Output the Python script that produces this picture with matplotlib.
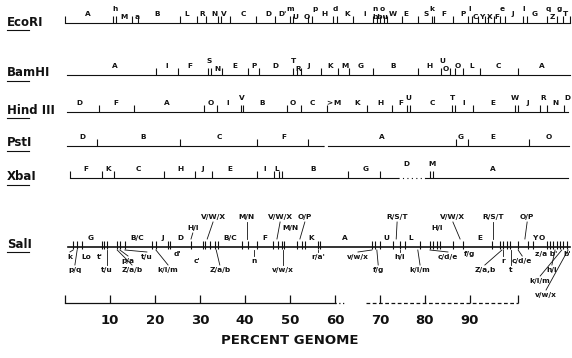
import numpy as np
import matplotlib.pyplot as plt

nan = np.nan

# ---- restriction maps, positions in percent genome ----
eco_cuts = [0.0, 10.7, 11.3, 14.9, 16.2, 25.6, 29.3, 31.3, 33.9, 34.6, 36.7, 42.4, 46.7,
            50.0, 50.7, 54.0, 54.9, 59.6, 60.4, 64.0, 68.4, 69.3, 70.0, 70.9, 71.6, 74.9,
            78.4, 81.6, 82.0, 86.2, 89.6, 90.4, 91.8, 93.3, 94.0, 95.3, 96.7, 97.8,
            101.8, 102.7, 107.1, 109.3, 110.7, 112.2]
eco_names = ["A", "h", "M", "a", "B", "L", "R", "N", "V", "C",
             "D", "D'", "m", "U", "O", "p", "H", "d", "K", "i",
             "n", "o", "bbu", "W", "E", "S", "k", "F", "P", "l",
             "C", "Y", "X", "F", "e", "J", "l", "G", "q", "Z",
             "g", "T"]
eco_pos = [5.1, 11.1, 13.1, 16.0, 20.4, 27.1, 30.4, 33.1, 35.3, 39.6,
           45.1, 48.4, 50.0, 51.1, 53.8, 55.6, 57.6, 60.0, 62.7, 66.7,
           68.9, 70.4, 70.0, 72.9, 75.8, 80.2, 81.6, 84.2, 88.4, 90.0,
           91.1, 92.7, 94.4, 96.0, 97.1, 99.6, 102.0, 104.4, 107.3, 108.4,
           109.8, 111.3]
eco_tier = [0, 1, -1, -1, 0, 0, 0, 0, 0, 0,
            0, 0, 1, -1, -1, 1, 0, 1, 0, 0,
            1, 1, -1, 0, 0, 0, 1, 0, 0, 1,
            -1, -1, -1, -1, 1, 0, 1, 0, 1, -1,
            1, 0]

bam_cuts = [20.2, 25.1, 31.8, 32.4, 34.9, 40.7, 43.1, 50.7, 51.6, 52.4, 56.9, 60.7, 63.1,
            68.4, 78.4, 83.6, 85.6, 86.7, 88.4, 92.2, 100.7]
bam_names = ["A", "I", "F", "S", "N", "E", "P", "D", "T", "R", "J", "K", "M", "G",
             "B", "H", "U", "O", "O", "L", "C", "A"]
bam_pos = [11.1, 22.7, 27.8, 32.0, 33.8, 37.8, 42.0, 46.7, 50.7, 51.8, 54.2, 58.9, 62.2,
           65.8, 72.9, 80.9, 83.8, 84.7, 87.3, 90.4, 96.2, 106.0]
bam_tier = [0, 0, 0, 1, -1, 0, 0, 0, 1, -1, 0, 0, 0, 0, 0, 0, 1, -1, 0, 0, 0, 0]

hind_cuts = [7.6, 15.3, 30.9, 33.8, 39.1, 39.6, 49.3, 52.4, 58.2, 67.1, 72.7, 76.0, 76.7,
             86.0, 86.7, 90.7, 100.0, 100.7, 105.6, 107.1, 110.9]
hind_names = ["D", "F", "A", "O", "I", "V", "B", "O", "C", ">",
              "M", "K", "H", "F", "U", "C", "T", "I", "E", "W",
              "J", "R", "N", "D"]
hind_pos = [3.3, 11.3, 22.7, 32.4, 36.2, 39.3, 43.8, 50.7, 54.9, 58.7,
            60.4, 64.9, 70.0, 74.7, 76.4, 81.6, 86.2, 88.7, 95.1, 100.0,
            102.9, 106.2, 108.9, 111.6]
hind_tier = [0, 0, 0, 0, 0, 1, 0, 0, 0, 0, 0, 0, 0, 0, 1, 0, 1, 0, 0, 1, 0, 1, 0, 1]

pst_cuts = [7.1, 25.6, 42.7, 54.0, 86.9, 89.6, 103.1]
pst_names = ["D", "B", "C", "F", "A", "G", "E", "O"]
pst_pos = [3.8, 17.3, 34.4, 48.7, 70.4, 88.0, 95.1, 107.6]

xba_cuts = [1.1, 8.2, 10.9, 22.0, 28.9, 32.7, 42.7, 46.4, 47.6, 48.2, 62.9, 70.0, 81.1, 81.8]
xba_names = ["F", "K", "C", "H", "J", "E", "I", "L", "B", "G", "D", "M", "A"]
xba_pos = [4.7, 9.6, 16.2, 25.6, 30.7, 36.7, 44.4, 47.1, 55.1, 66.7, 75.8, 81.6, 95.1]
xba_tier = [0, 0, 0, 0, 0, 0, 0, 0, 0, 0, 1, 1, 0]

sal_cuts = [1.8, 2.7, 3.8, 8.2, 8.7, 9.3, 11.6, 12.2, 13.3, 19.3, 20.2, 22.9, 23.3, 28.0,
            30.7, 31.1, 32.2, 33.3, 34.0, 39.3, 40.7, 42.7, 46.2, 47.3, 48.2, 48.7, 51.6,
            52.7, 53.3, 56.2, 56.7, 68.2, 68.9, 70.0, 72.9, 74.4, 75.6, 78.9, 81.1, 81.8,
            82.7, 83.3, 86.2, 88.4, 94.9, 96.7, 97.3, 98.2, 98.9, 100.7, 102.9, 104.0,
            107.1, 107.8, 108.4, 109.3, 110.0, 110.7, 111.6]
sal_top = ["G", "B/C", "J", "D", "B/C", "F", "K", "A", "U", "L", "E", "Y", "O",
           "H/I", "M/N", "H/I",
           "V/W/X", "M/N", "V/W/X", "O/P", "R/S/T", "V/W/X", "R/S/T", "O/P"]
sal_top_x = [5.6, 16.0, 21.8, 25.6, 36.7, 44.4, 54.7, 62.2, 71.3, 76.9, 92.2, 104.4, 106.0,
             28.4, 50.0, 82.7,
             32.9, 40.4, 47.8, 53.3, 73.8, 86.2, 95.1, 102.7]
sal_top_tier = [0] * 13 + [1] * 3 + [2] * 8
sal_top_site = [nan] * 13 + [28.0, nan, nan] + [31.6, 40.4, 47.1, 52.2, 73.6, 87.8, 95.1, 102.2]

sal_bot = ["k", "Lo", "t'", "p/a", "t/u", "d'", "c'", "n", "r/a'", "v/w/x", "h/i",
           "c/d/e", "f/g", "r", "c/d/e", "z/a b'", "b'",
           "p/q", "t/u", "Z/a/b", "k/l/m", "Z/a/b", "v/w/x", "f/g", "k/l/m", "Z/a,b", "t", "h/i",
           "k/l/m", "v/w/x"]
sal_bot_x = [1.1, 4.7, 7.8, 14.0, 18.2, 24.9, 29.3, 42.0, 56.2, 65.1, 74.4,
             85.1, 90.0, 97.3, 101.6, 106.9, 111.6,
             2.2, 9.3, 14.9, 22.9, 34.4, 48.4, 69.6, 78.9, 93.3, 99.1, 108.2,
             105.6, 106.9]
sal_bot_tier = [1, 1, 1, 1.5, 1, 0, 1.5, 1.5, 1, 1, 1,
                1, 0, 1.5, 1.5, 0, 0,
                2, 2, 2, 2, 2, 2, 2, 2, 2, 2, 2,
                3, 4]
sal_bot_site = [1.8, nan, nan, 12.2, 13.3, 23.3, nan, 42.0, 56.2, 68.2, 74.4,
                81.1, 88.4, 97.3, 100.7, nan, 111.6,
                2.7, 9.3, 11.6, 20.2, 33.6, 48.4, 69.3, 78.4, 97.1, 99.1, 108.9,
                110.4, 111.8]

scale_ticks = [0, 10, 20, 30, 40, 50, 60, 70, 80, 90]
scale_end = 100.7

INK = '#111111'
FR = dict(fontsize=5.3, fontweight='bold', color=INK, ha='center', va='center')


def row(ax, y, x0, x1, cuts, names, pos, tier=None, gap=None):
    # base line, with a dotted stretch where the map is uncertain
    if gap is None:
        ax.plot([x0, x1], [y, y], color=INK, lw=0.8)
    else:
        ax.plot([x0, gap[0]], [y, y], color=INK, lw=0.8)
        ax.plot(gap, [y, y], color=INK, lw=0.8, ls=(0, (1, 3)))
        ax.plot([gap[1], x1], [y, y], color=INK, lw=0.8)
    ax.vlines(cuts, y - 7, y, color=INK, lw=0.8)
    if tier is None:
        tier = [0] * len(names)
    for n, x, t in zip(names, pos, tier):
        dy = {0: -9, 1: -14, -1: -6}[t]
        ax.text(x, y + dy, n, **FR)


def main():
    fig = plt.figure(figsize=(5.72, 3.58), dpi=100)
    ax = fig.add_axes([0, 0, 1, 1])
    ax.set_xlim(-65 / 4.5, (572 - 65) / 4.5)
    ax.set_ylim(358, 0)
    ax.axis('off')

    # enzyme names
    for name, y in [("EcoRI", 22), ("BamHI", 73), ("Hind III", 110), ("PstI", 143),
                    ("XbaI", 177), ("SalI", 244)]:
        ax.text(-12.9, y, name, fontsize=8.5, fontweight='bold', color=INK, ha='left', va='center')
        ax.plot([-12.9, -8.0], [y + 8, y + 8], color=INK, lw=0.8)

    row(ax, 23, 0.0, 112.2, eco_cuts, eco_names, eco_pos, eco_tier)
    row(ax, 75, 0.4, 112.2, bam_cuts, bam_names, bam_pos, bam_tier)
    row(ax, 112, 0.4, 111.8, hind_cuts, hind_names, hind_pos, hind_tier)
    row(ax, 146, 0.4, 112.0, pst_cuts, pst_names, pst_pos, gap=(57.3, 58.6))
    row(ax, 178, 1.1, 111.8, xba_cuts, xba_names, xba_pos, xba_tier, gap=(74.0, 80.0))

    # SalI
    sy = 247
    ax.plot([0.7, 112.2], [sy, sy], color=INK, lw=1.2)
    ax.vlines(sal_cuts, sy - 6, sy + 2, color=INK, lw=0.8)
    top_dy = {0: -9, 1: -19, 2: -30}
    for n, x, t, s in zip(sal_top, sal_top_x, sal_top_tier, sal_top_site):
        ly = sy + top_dy[t]
        ax.text(x, ly, n, **FR)
        if not np.isnan(s):
            ax.plot([s, x], [sy - 8, ly + 5], color=INK, lw=0.6)
    bot_dy = {0: 7, 1: 10, 1.5: 14, 2: 23, 3: 34, 4: 48}
    for n, x, t, s in zip(sal_bot, sal_bot_x, sal_bot_tier, sal_bot_site):
        ly = sy + bot_dy[t]
        ax.text(x, ly, n, **FR)
        if not np.isnan(s) and ly - 5 > sy + 3:
            ax.plot([s, x], [sy + 3, ly - 5], color=INK, lw=0.6)

    # scale bar
    by = 303
    ax.plot([0, 60], [by, by], color=INK, lw=0.9)
    ax.plot([60, 62.5], [by, by], color=INK, lw=0.9, ls=(0, (1, 2)))
    ax.plot([67, scale_end], [by, by], color=INK, lw=0.9, ls=(0, (3, 2)))
    ax.vlines(scale_ticks + [scale_end], by - 8, by, color=INK, lw=0.9)
    for t in scale_ticks[1:]:
        ax.text(t, by + 18, str(t), fontsize=9.5, fontweight='bold', color=INK,
                ha='center', va='center')
    ax.text(50, by + 37, "PERCENT GENOME", fontsize=9.5, fontweight='bold', color=INK,
            ha='center', va='center')

    fig.savefig('out.png', dpi=100, facecolor='white')


if __name__ == '__main__':
    main()
